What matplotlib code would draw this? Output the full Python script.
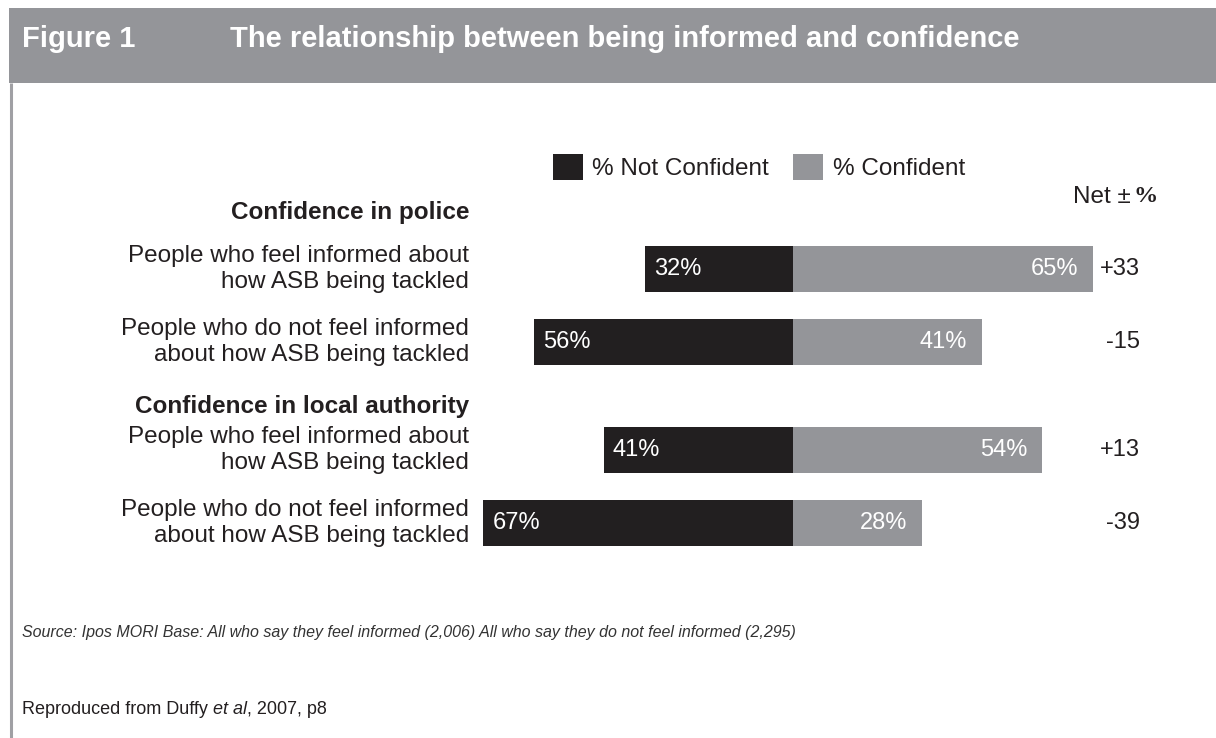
import matplotlib
matplotlib.use("Agg")
import matplotlib.pyplot as plt
from matplotlib.patches import Rectangle, Patch

# ---- data ----
groups = ["Confidence in police", "Confidence in local authority"]
row_labels = [
    "People who feel informed about\nhow ASB being tackled",
    "People who do not feel informed\nabout how ASB being tackled",
    "People who feel informed about\nhow ASB being tackled",
    "People who do not feel informed\nabout how ASB being tackled",
]
not_confident = [32, 56, 41, 67]
confident = [65, 41, 54, 28]
net = ["+33", "-15", "+13", "-39"]

# ---- layout / style ----
W, H = 1216, 738
BLACK = "#221f20"
GREY = "#949599"
TXT = "#231f20"
SLOT = 73                              # px per row slot
row_pos = [0.0, 1.0, 2.48, 3.48]       # bar slots (group header sits in the gap)
group_pos = [-0.77, 1.88]
net_head_pos = -0.99
bar_h = 0.63
plt.rcParams["font.family"] = ["Liberation Sans", "DejaVu Sans"]

fig = plt.figure(figsize=(W / 100, H / 100), dpi=100)

# background / decoration axes in pixel units
bg = fig.add_axes([0, 0, 1, 1])
bg.set_xlim(0, W)
bg.set_ylim(H, 0)
bg.axis("off")
bg.add_patch(Rectangle((9, 8), W - 9, 75, color=GREY, lw=0))
bg.plot([11, 11], [83, H], color="#a0a0a4", lw=2.2, solid_capstyle="butt")
bg.text(22, 39, "Figure 1", color="white", fontsize=21, fontweight="bold", va="center")
bg.text(230, 39, "The relationship between being informed and confidence",
        color="white", fontsize=21, fontweight="bold", va="center")
bg.text(22, 633, "Source: Ipos MORI Base: All who say they feel informed (2,006) "
        "All who say they do not feel informed (2,295)",
        color="#333333", fontsize=11.5, style="italic", va="center")
t = bg.text(22, 710, "Reproduced from Duffy ", color=TXT, fontsize=13, va="center")
t2 = bg.annotate("et al", xycoords=t, xy=(1, 0.5), va="center", fontsize=13,
                 style="italic", color=TXT)
bg.annotate(", 2007, p8", xycoords=t2, xy=(1, 0.5), va="center", fontsize=13, color=TXT)

# bar axes: zero line at x=793px, ~4.62 px per percent
px_per = 4.62
x0 = 793
left = x0 - 70 * px_per
ax = fig.add_axes([left / W, 0, 140 * px_per / W, 1])
ax.set_xlim(-70, 70)
top_u = -269 / SLOT
ax.set_ylim(top_u + H / SLOT, top_u)
ax.axis("off")

neg = [-v for v in not_confident]
ax.barh(row_pos, neg, height=bar_h, color=BLACK, lw=0)
ax.barh(row_pos, confident, height=bar_h, color=GREY, lw=0)

fs_bar = 17
fs_lab = 17.5
for y, nc, c, n in zip(row_pos, not_confident, confident, net):
    ax.text(-nc + 2.0, y, f"{nc}%", color="white", fontsize=fs_bar, va="center", ha="left")
    ax.text(c - 3.3, y, f"{c}%", color="white", fontsize=fs_bar, va="center", ha="right")
    ax.text(75.1, y, n, color=TXT, fontsize=fs_bar, va="center", ha="right")

for y, lab in zip(row_pos, row_labels):
    ax.text(-70.1, y, lab, color=TXT, fontsize=fs_lab, va="center", ha="right",
            linespacing=1.22, multialignment="right")
for y, g in zip(group_pos, groups):
    ax.text(-70.1, y, g, color=TXT, fontsize=fs_lab, fontweight="bold", va="center", ha="right")

# net header
ax.text(73.0, net_head_pos, "Net \u00b1", color=TXT, fontsize=fs_lab, va="center", ha="right")
ax.text(73.6, net_head_pos, "%", color=TXT, fontsize=fs_lab, va="center", ha="left",
        family="Liberation Serif", fontweight="bold")

# legend
handles = [Patch(color=BLACK, lw=0), Patch(color=GREY, lw=0)]
fig.legend(handles, ["% Not Confident", "% Confident"], ncol=2, frameon=False,
           loc="upper left", bbox_to_anchor=(553 / W, 1 - 154 / H),
           fontsize=fs_lab, handlelength=1.22, handleheight=1.3, handletextpad=0.4,
           columnspacing=1.0, borderpad=0, borderaxespad=0, labelcolor=TXT)

fig.savefig("out.png", dpi=100)
